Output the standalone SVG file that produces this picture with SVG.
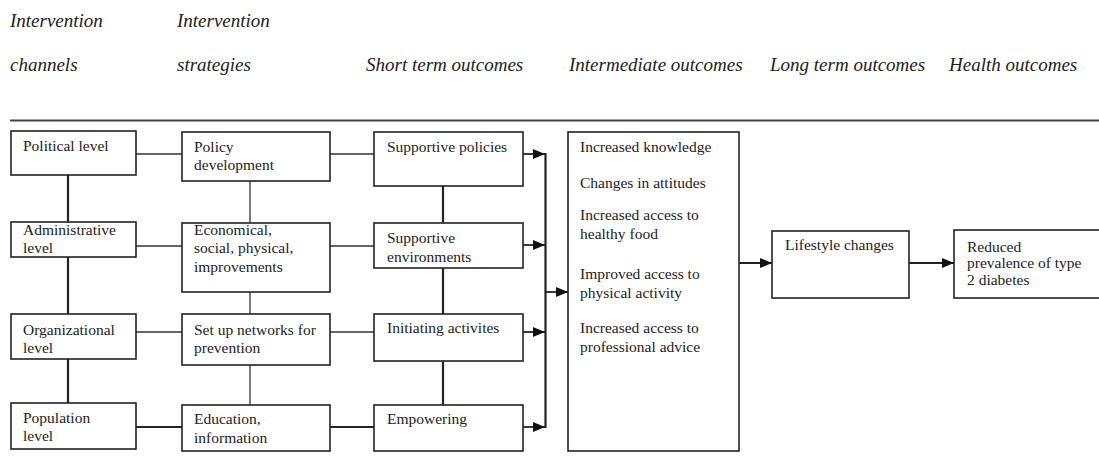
<svg xmlns="http://www.w3.org/2000/svg" width="1099" height="468" viewBox="0 0 1099 468">
<defs>
<style>
.hd{font-family:"Liberation Serif","Times New Roman",serif;font-style:italic;font-size:19px;fill:#222}
.t{font-family:"Liberation Serif","Times New Roman",serif;font-size:15.5px;fill:#222}
.box{fill:#fff;stroke:#222;stroke-width:1.6}
.thin{stroke:#333;stroke-width:1.3;fill:none}
.thick{stroke:#222;stroke-width:2.2;fill:none}
.arr{stroke:#222;stroke-width:1.8;fill:none;marker-end:url(#ah)}
</style>
<marker id="ah" markerWidth="12" markerHeight="10" refX="12" refY="5" orient="auto" markerUnits="userSpaceOnUse">
<path d="M0,0 L12,5 L0,10 Z" fill="#111"/>
</marker>
</defs>
<rect width="1099" height="468" fill="#fff"/>

<g id="headers">
<text class="hd" x="10" y="27">Intervention</text>
<text class="hd" x="10" y="71">channels</text>
<text class="hd" x="177" y="27">Intervention</text>
<text class="hd" x="177" y="71">strategies</text>
<text class="hd" x="366" y="71">Short term outcomes</text>
<text class="hd" x="569" y="71">Intermediate outcomes</text>
<text class="hd" x="770" y="71">Long term outcomes</text>
<text class="hd" x="949" y="71">Health outcomes</text>
<line x1="10" y1="120.5" x2="1099" y2="120.5" stroke="#444" stroke-width="2"/>
</g>

<g id="connectors">
<line class="thick" x1="68" y1="175" x2="68" y2="222"/>
<line class="thick" x1="68" y1="257" x2="68" y2="314"/>
<line class="thick" x1="68" y1="359" x2="68" y2="403"/>
<line class="thin" x1="250" y1="181" x2="250" y2="223"/>
<line class="thin" x1="250" y1="292" x2="250" y2="314"/>
<line class="thin" x1="250" y1="365" x2="250" y2="405"/>
<line class="thick" x1="443" y1="186" x2="443" y2="223"/>
<line class="thick" x1="443" y1="268" x2="443" y2="314"/>
<line class="thick" x1="443" y1="361" x2="443" y2="405"/>
<line class="thin" x1="136" y1="154" x2="182" y2="154"/>
<line class="thin" x1="136" y1="246" x2="182" y2="246"/>
<line class="thin" x1="136" y1="332" x2="182" y2="332"/>
<line class="thick" x1="136" y1="427" x2="182" y2="427"/>
<line class="thin" x1="330" y1="154" x2="374" y2="154"/>
<line class="thin" x1="330" y1="246" x2="374" y2="246"/>
<line class="thin" x1="330" y1="332" x2="374" y2="332"/>
<line class="thick" x1="330" y1="427" x2="374" y2="427"/>
<line class="arr" x1="523" y1="154" x2="545" y2="154"/>
<line class="arr" x1="523" y1="245" x2="545" y2="245"/>
<line class="arr" x1="523" y1="332" x2="545" y2="332"/>
<line class="arr" x1="523" y1="427" x2="545" y2="427"/>
<line class="thick" x1="545.5" y1="153" x2="545.5" y2="428"/>
<line class="arr" x1="545" y1="292" x2="568" y2="292"/>
<line class="arr" x1="739" y1="263" x2="772" y2="263"/>
<line class="arr" x1="909" y1="263" x2="954" y2="263"/>
</g>

<g id="political">
<rect class="box" x="11" y="131" width="125" height="44"/>
<text class="t" x="23" y="151">Political level</text>
</g>
<g id="administrative">
<rect class="box" x="11" y="222" width="125" height="35"/>
<text class="t" x="23" y="235">Administrative</text>
<text class="t" x="23" y="253">level</text>
</g>
<g id="organizational">
<rect class="box" x="11" y="314" width="125" height="45"/>
<text class="t" x="23" y="335">Organizational</text>
<text class="t" x="23" y="353">level</text>
</g>
<g id="population">
<rect class="box" x="11" y="403" width="125" height="46"/>
<text class="t" x="23" y="423">Population</text>
<text class="t" x="23" y="441">level</text>
</g>

<g id="policy-development">
<rect class="box" x="182" y="132" width="148" height="49"/>
<text class="t" x="194" y="152">Policy</text>
<text class="t" x="194" y="170">development</text>
</g>
<g id="economical">
<rect class="box" x="182" y="223" width="148" height="69"/>
<text class="t" x="194" y="235">Economical,</text>
<text class="t" x="194" y="253">social, physical,</text>
<text class="t" x="194" y="272">improvements</text>
</g>
<g id="networks">
<rect class="box" x="182" y="314" width="148" height="51"/>
<text class="t" x="194" y="335">Set up networks for</text>
<text class="t" x="194" y="353">prevention</text>
</g>
<g id="education">
<rect class="box" x="182" y="405" width="148" height="46"/>
<text class="t" x="194" y="424">Education,</text>
<text class="t" x="194" y="443">information</text>
</g>

<g id="supportive-policies">
<rect class="box" x="374" y="132" width="149" height="54"/>
<text class="t" x="387" y="152">Supportive policies</text>
</g>
<g id="supportive-environments">
<rect class="box" x="374" y="223" width="149" height="45"/>
<text class="t" x="387" y="243">Supportive</text>
<text class="t" x="387" y="262">environments</text>
</g>
<g id="initiating">
<rect class="box" x="374" y="314" width="149" height="47"/>
<text class="t" x="387" y="333">Initiating activites</text>
</g>
<g id="empowering">
<rect class="box" x="374" y="405" width="149" height="46"/>
<text class="t" x="387" y="424">Empowering</text>
</g>

<g id="intermediate">
<rect class="box" x="568" y="132" width="171" height="319" stroke-width="2"/>
<text class="t" x="580" y="152">Increased knowledge</text>
<text class="t" x="580" y="188">Changes in attitudes</text>
<text class="t" x="580" y="220">Increased access to</text>
<text class="t" x="580" y="239">healthy food</text>
<text class="t" x="580" y="279">Improved access to</text>
<text class="t" x="580" y="298">physical activity</text>
<text class="t" x="580" y="333">Increased access to</text>
<text class="t" x="580" y="352">professional advice</text>
</g>

<g id="lifestyle">
<rect class="box" x="772" y="231" width="137" height="67"/>
<text class="t" x="785" y="250">Lifestyle changes</text>
</g>

<g id="reduced">
<rect class="box" x="954" y="230" width="150" height="68"/>
<text class="t" x="967" y="252">Reduced</text>
<text class="t" x="967" y="268">prevalence of type</text>
<text class="t" x="967" y="285">2 diabetes</text>
</g>
</svg>
